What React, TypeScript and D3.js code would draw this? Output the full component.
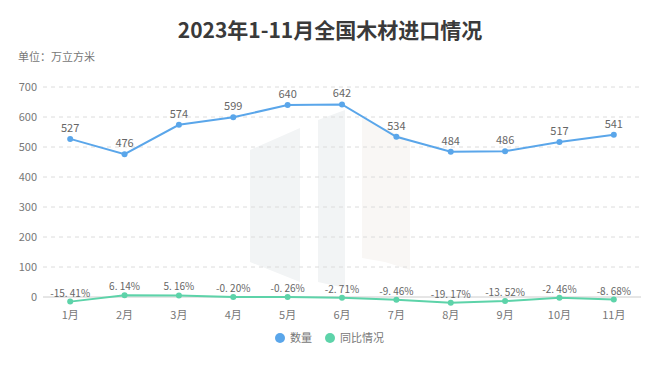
import { useEffect, useRef } from 'react'
import * as d3 from 'd3'

const months = ['1月', '2月', '3月', '4月', '5月', '6月', '7月', '8月', '9月', '10月', '11月']
const volume = [527, 476, 574, 599, 640, 642, 534, 484, 486, 517, 541]
const yoy = [-15.41, 6.14, 5.16, -0.2, -0.26, -2.71, -9.46, -19.17, -13.52, -2.46, -8.68]
const yTicks = [0, 100, 200, 300, 400, 500, 600, 700]
const legendItems = [
  { name: '数量', color: '#5aa6ea' },
  { name: '同比情况', color: '#5dd3a9' },
]

export default function App() {
  const svgRef = useRef<SVGSVGElement>(null)

  useEffect(() => {
    if (!svgRef.current) return
    const width = 660
    const height = 368
    const svg = d3.select(svgRef.current)
    svg.selectAll('*').remove()
    svg.attr('width', width).attr('height', height)
    const font = '"Noto Sans CJK SC", "Noto Sans", sans-serif'

    svg.append('rect').attr('width', width).attr('height', height).attr('fill', '#fff')

    // faint watermark
    const wm = svg.append('g').attr('fill', '#f2f4f5')
    wm.append('path').attr('d', 'M250,150 L300,128 L300,282 L275,272 L250,262 Z')
    wm.append('path').attr('d', 'M318,120 L345,110 L345,288 L318,282 Z')
    wm.append('path').attr('d', 'M362,118 L410,140 L410,270 L385,262 L362,258 Z').attr('fill', '#f9f7f5')

    const x = d3.scaleBand<string>().domain(months).range([43, 641])
    const y = d3.scaleLinear().domain([0, 700]).range([297, 87])
    const cx = (m: string) => (x(m) ?? 0) + x.bandwidth() / 2

    // title
    svg.append('text').attr('x', 330).attr('y', 38).attr('text-anchor', 'middle')
      .attr('font-family', font).attr('font-size', 21).attr('font-weight', 'bold').attr('fill', '#3a3a3a')
      .text('2023年1-11月全国木材进口情况')
    svg.append('text').attr('x', 18).attr('y', 61).attr('font-family', font).attr('font-size', 11).attr('fill', '#777')
      .text('单位：万立方米')

    // grid
    svg.append('g').selectAll('line').data(yTicks.filter(t => t > 0)).enter().append('line')
      .attr('x1', 43).attr('x2', 641).attr('y1', d => y(d)).attr('y2', d => y(d))
      .attr('stroke', '#dcdcdc').attr('stroke-dasharray', '4,4')
    svg.append('line').attr('x1', 43).attr('x2', 641).attr('y1', y(0)).attr('y2', y(0)).attr('stroke', '#cccccc')

    // y labels
    svg.append('g').selectAll('text').data(yTicks).enter().append('text')
      .attr('x', 37).attr('y', d => y(d)).attr('dy', '0.35em').attr('text-anchor', 'end')
      .attr('font-family', font).attr('font-size', 11).attr('fill', '#777').text(d => d)

    // x labels
    svg.append('g').selectAll('text').data(months).enter().append('text')
      .attr('x', d => cx(d)).attr('y', 319).attr('text-anchor', 'middle')
      .attr('font-family', font).attr('font-size', 11).attr('fill', '#777').text(d => d)

    // volume line
    const line = d3.line<number>().x((_, i) => cx(months[i])).y(d => y(d))
    svg.append('path').datum(volume).attr('fill', 'none').attr('stroke', legendItems[0].color)
      .attr('stroke-width', 2).attr('d', line)
    svg.append('g').selectAll('circle').data(volume).enter().append('circle')
      .attr('cx', (_, i) => cx(months[i])).attr('cy', d => y(d)).attr('r', 3).attr('fill', legendItems[0].color)
    svg.append('g').selectAll('text').data(volume).enter().append('text')
      .attr('x', (_, i) => cx(months[i])).attr('y', d => y(d) - 7).attr('text-anchor', 'middle')
      .attr('font-family', font).attr('font-size', 11).attr('fill', '#666').text(d => d)

    // yoy line
    svg.append('path').datum(yoy).attr('fill', 'none').attr('stroke', legendItems[1].color)
      .attr('stroke-width', 2).attr('d', line)
    svg.append('g').selectAll('circle').data(yoy).enter().append('circle')
      .attr('cx', (_, i) => cx(months[i])).attr('cy', d => y(d)).attr('r', 3).attr('fill', legendItems[1].color)
    svg.append('g').selectAll('text').data(yoy).enter().append('text')
      .attr('x', (_, i) => cx(months[i])).attr('y', d => y(d) - 5).attr('text-anchor', 'middle')
      .attr('font-family', font).attr('font-size', 10).attr('fill', '#666')
      .text(d => `${d.toFixed(2).replace('.', '. ')}%`)

    // legend
    const lg = svg.append('g').selectAll('g').data(legendItems).enter().append('g')
      .attr('transform', (_, i) => `translate(${i === 0 ? 280 : 330},338)`)
    lg.append('circle').attr('r', 5).attr('fill', d => d.color)
    lg.append('text').attr('x', 10).attr('dy', '0.35em').attr('font-family', font).attr('font-size', 11)
      .attr('fill', '#777').text(d => d.name)
  }, [])

  return (
    <div style={{ margin: -8 }}>
      <svg ref={svgRef} style={{ display: 'block' }} />
    </div>
  )
}
